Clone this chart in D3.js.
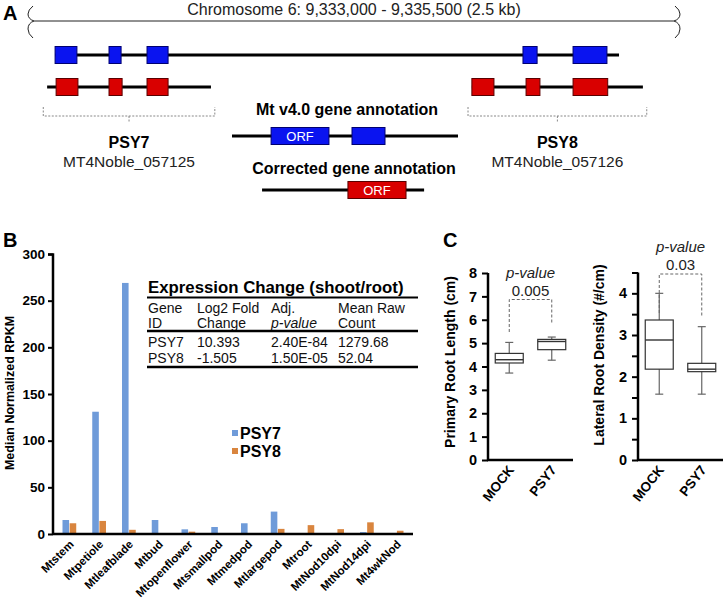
<!DOCTYPE html>
<html><head><meta charset="utf-8">
<script src="https://cdn.jsdelivr.net/npm/d3@7"></script>
<style>body{margin:0;background:#fff} svg{display:block} text{font-family:Arial,"Liberation Sans",sans-serif}</style>
</head><body><svg id="fig" width="724" height="607"></svg>
<script>
// ---------- Panel A data (genomic coordinates, bp) ----------
const chromRange = [9333000, 9335500];
const chromLabel = "Chromosome 6: 9,333,000 - 9,335,500 (2.5 kb)";
const v4Span = [9333086, 9335282];
const v4Exons = [[9333086,9333171],[9333296,9333343],[9333444,9333526],[9334908,9334963],[9335103,9335235]];
const geneNames = ["PSY7", "PSY8"];
const geneIds = ["MT4Noble_057125", "MT4Noble_057126"];
const correctedSpans = [[9333055,9333693],[9334709,9335375]];
const correctedExons = [
  [[9333090,9333175],[9333296,9333347],[9333444,9333526]],
  [[9334709,9334795],[9334920,9334974],[9335103,9335238]]
];
// inset schematic (relative bp)
const insetV4Span = [0, 1000];
const insetV4Exons = [[173,429],[531,677]];
const insetCorrSpan = [133, 850];
const insetCorrExons = [[513,770]];

// ---------- Panel B data ----------
const tissues = ["Mtstem","Mtpetiole","Mtleafblade","Mtbud","Mtopenflower","Mtsmallpod","Mtmedpod","Mtlargepod","Mtroot","MtNod10dpi","MtNod14dpi","Mt4wkNod"];
const psy7Rpkm = [15, 131, 269, 15, 5, 7.5, 11.5, 24, 0.3, 0.2, 2, 0.2];
const psy8Rpkm = [11.5, 14, 4.5, 1, 2.5, 0.8, 1, 5.5, 9.5, 5.2, 12.5, 3.5];
const seriesNames = ["PSY7","PSY8"];
const rpkmTicks = [0,50,100,150,200,250,300];
const tableTitle = "Expression Change (shoot/root)";
const tableHeader1 = ["Gene","Log2 Fold","Adj.","Mean Raw"];
const tableHeader2 = ["ID","Change","p-value","Count"];
const tableRows = [["PSY7","10.393","2.40E-84","1279.68"],["PSY8","-1.505","1.50E-05","52.04"]];

// ---------- Panel C data ----------
const treatments = ["MOCK","PSY7"];
// [whiskerLow, q1, median, q3, whiskerHigh]
const rootLength = [[3.72,4.15,4.29,4.56,5.03],[4.27,4.72,5.07,5.16,5.26]];
const rootDensity = [[1.58,2.18,2.88,3.36,4.0],[1.58,2.12,2.18,2.32,3.2]];
const pLength = "0.005";
const pDensity = "0.03";

const svg = d3.select("#fig");
const blue = "#0a14f0", blueStroke = "#000070";
const red = "#d90000", redStroke = "#5a0000";

// ================= PANEL A =================
svg.append("text").attr("x",3).attr("y",20).attr("font-size",20).attr("font-weight","bold").text("A");
const gx = d3.scaleLinear().domain(chromRange).range([33, 675]);
const x0 = gx(chromRange[0]), x1 = gx(chromRange[1]);
svg.append("line").attr("x1",x0+1).attr("x2",x1-1).attr("y1",21).attr("y2",21).attr("stroke","#222").attr("stroke-width",1);
function brace(x, dir){ // dir -1 left, +1 right
  const d = dir*5;
  return `M${x},6 Q${x+d},10 ${x+d},14 Q${x+d},19 ${x-dir},21 Q${x+d},23 ${x+d},29 Q${x+d},34 ${x},38`;
}
svg.append("path").attr("d",brace(x0,-1)).attr("fill","none").attr("stroke","#222").attr("stroke-width",1);
svg.append("path").attr("d",brace(x1,1)).attr("fill","none").attr("stroke","#222").attr("stroke-width",1);
svg.append("text").attr("x",(x0+x1)/2).attr("y",15).attr("text-anchor","middle").attr("font-size",16).attr("fill","#222").text(chromLabel);

function geneModel(g, scale, span, exons, y, h, fill, stroke){
  g.append("line").attr("x1",scale(span[0])).attr("x2",scale(span[1])).attr("y1",y).attr("y2",y)
    .attr("stroke","#000").attr("stroke-width",3);
  g.selectAll(null).data(exons).enter().append("rect")
    .attr("x",d=>scale(d[0])).attr("width",d=>scale(d[1])-scale(d[0]))
    .attr("y",y-h/2).attr("height",h).attr("fill",fill).attr("stroke",stroke).attr("stroke-width",1);
}
const gA = svg.append("g");
geneModel(gA, gx, v4Span, v4Exons, 55, 17, blue, blueStroke);
correctedSpans.forEach((s,i)=>geneModel(gA, gx, s, correctedExons[i], 87, 17, red, redStroke));

// dashed brackets and labels
correctedSpans.forEach((s,i)=>{
  const a = gx(s[0]-15), b = gx(s[1]+15), m=(a+b)/2;
  gA.append("path").attr("d",`M${a},107 L${a},116 L${b},116 L${b},107 M${m},116 L${m},122`)
    .attr("fill","none").attr("stroke","#888").attr("stroke-width",1).attr("stroke-dasharray","2,1.5");
  gA.append("text").attr("x",m).attr("y",148).attr("text-anchor","middle").attr("font-size",16).attr("font-weight","bold").text(geneNames[i]);
  gA.append("text").attr("x",m).attr("y",167).attr("text-anchor","middle").attr("font-size",15.5).attr("fill","#222").text(geneIds[i]);
});

// inset schematics
const ix = d3.scaleLinear().domain([0,1000]).range([232, 458]);
gA.append("text").attr("x",347).attr("y",115).attr("text-anchor","middle").attr("font-size",16).attr("font-weight","bold").text("Mt v4.0 gene annotation");
geneModel(gA, ix, insetV4Span, insetV4Exons, 136, 17, blue, blueStroke);
gA.append("text").attr("x",(ix(insetV4Exons[0][0])+ix(insetV4Exons[0][1]))/2).attr("y",141).attr("text-anchor","middle").attr("font-size",13).attr("fill","#fff").text("ORF");
gA.append("text").attr("x",354).attr("y",174).attr("text-anchor","middle").attr("font-size",16).attr("font-weight","bold").text("Corrected gene annotation");
geneModel(gA, ix, insetCorrSpan, insetCorrExons, 190, 17, red, redStroke);
gA.append("text").attr("x",(ix(insetCorrExons[0][0])+ix(insetCorrExons[0][1]))/2).attr("y",195).attr("text-anchor","middle").attr("font-size",13).attr("fill","#fff").text("ORF");

// ================= PANEL B =================
svg.append("text").attr("x",3).attr("y",247).attr("font-size",20).attr("font-weight","bold").text("B");
const by = d3.scaleLinear().domain([0,300]).range([534, 254]);
const bx = d3.scaleBand().domain(tissues).range([53, 413]).paddingInner(0.5).paddingOuter(0.3);
const bx1 = d3.scaleBand().domain(seriesNames).range([0, bx.bandwidth()]).padding(0.08);
const colors = {PSY7:"#6f9bd9", PSY8:"#d9853e"};
const gB = svg.append("g");
const barData = [];
tissues.forEach((t,i)=>{ barData.push({t, s:"PSY7", v:psy7Rpkm[i]}); barData.push({t, s:"PSY8", v:psy8Rpkm[i]}); });
gB.selectAll("rect.bar").data(barData).enter().append("rect")
  .attr("x",d=>bx(d.t)+bx1(d.s)).attr("width",bx1.bandwidth())
  .attr("y",d=>by(d.v)).attr("height",d=>by(0)-by(d.v)).attr("fill",d=>colors[d.s]);
const yAxB = gB.append("g").attr("transform","translate(53,0)").call(d3.axisLeft(by).tickValues(rpkmTicks).tickSize(5).tickPadding(3));
yAxB.selectAll("text").attr("font-size",13.5).attr("font-weight","bold").attr("font-family","Arial, Liberation Sans, sans-serif").attr("fill","#000");
yAxB.select(".domain").attr("stroke-width",2.5).attr("d","M-5,254.5H0V534");
yAxB.selectAll(".tick line").attr("stroke-width",2);
const xAxB = gB.append("g").attr("transform","translate(0,534)").call(d3.axisBottom(bx).tickSize(0).tickPadding(0));
xAxB.select(".domain").attr("stroke-width",2.5).attr("d","M53,0H413");
xAxB.selectAll("text").attr("font-size",11.5).attr("font-weight","bold").attr("font-family","Arial, Liberation Sans, sans-serif")
  .attr("fill","#000").attr("text-anchor","end").attr("dy",0)
  .attr("transform","translate(5,11) rotate(-45)");
gB.append("text").attr("transform","translate(14,393) rotate(-90)").attr("text-anchor","middle")
  .attr("font-size",12.5).attr("font-weight","bold").text("Median Normalized RPKM");
// legend
seriesNames.forEach((s,i)=>{
  gB.append("rect").attr("x",232).attr("y",430+i*18).attr("width",6).attr("height",6).attr("fill",colors[s]);
  gB.append("text").attr("x",240).attr("y",439+i*18).attr("font-size",16).attr("font-weight","bold").text(s);
});
// table
const colX = [148, 197, 271, 338];
gB.append("text").attr("x",148).attr("y",293).attr("font-size",16.8).attr("font-weight","bold").text(tableTitle);
gB.append("line").attr("x1",147).attr("x2",418).attr("y1",297.5).attr("y2",297.5).attr("stroke","#000").attr("stroke-width",2);
tableHeader1.forEach((h,i)=>gB.append("text").attr("x",colX[i]).attr("y",313).attr("font-size",14).attr("fill","#111").text(h));
tableHeader2.forEach((h,i)=>gB.append("text").attr("x",colX[i]).attr("y",328).attr("font-size",14).attr("fill","#111").attr("font-style",i===2?"italic":"normal").text(h));
gB.append("line").attr("x1",147).attr("x2",418).attr("y1",331).attr("y2",331).attr("stroke","#000").attr("stroke-width",2.5);
tableRows.forEach((r,j)=>r.forEach((c,i)=>gB.append("text").attr("x",colX[i]).attr("y",347+j*16).attr("font-size",14).attr("fill","#111").text(c)));
gB.append("line").attr("x1",147).attr("x2",418).attr("y1",367).attr("y2",367).attr("stroke","#000").attr("stroke-width",2.5);

// ================= PANEL C =================
svg.append("text").attr("x",443).attr("y",247).attr("font-size",20).attr("font-weight","bold").text("C");
function boxPanel(cfg){
  const g = svg.append("g");
  const y = d3.scaleLinear().domain([0,cfg.max]).range([460, cfg.top]);
  const x = d3.scalePoint().domain(treatments).range([cfg.left, cfg.left+85]).padding(0.5);
  const ax = g.append("g").attr("transform",`translate(${cfg.left},0)`)
    .call(d3.axisLeft(y).tickValues(cfg.ticks).tickSize(6).tickPadding(5).tickFormat(d=>Number.isInteger(d)?d:""));
  ax.select(".domain").attr("stroke-width",2.5).attr("d",`M0,${cfg.top}V460`);
  ax.selectAll(".tick line").attr("stroke-width",2);
  ax.selectAll("text").attr("font-size",14.5).attr("font-weight","bold").attr("font-family","Arial, Liberation Sans, sans-serif").attr("fill","#000");
  const bx = g.append("g").attr("transform","translate(0,460)").call(d3.axisBottom(x).tickSize(0).tickPadding(0));
  bx.select(".domain").attr("stroke-width",2.5).attr("d",`M${cfg.left-1},0H${cfg.left+85}`);
  bx.selectAll("text").attr("font-size",13.5).attr("font-weight","bold").attr("font-family","Arial, Liberation Sans, sans-serif")
    .attr("fill","#000").attr("text-anchor","end").attr("dy",0).attr("transform","translate(5,10) rotate(-52)");
  g.append("text").attr("transform",`translate(${cfg.labelX},${cfg.labelY}) rotate(-90)`).attr("text-anchor","middle")
    .attr("font-size",14).attr("font-weight","bold").text(cfg.label);
  cfg.data.forEach((d,i)=>{
    const cx = x(treatments[i]), w = 28;
    g.append("line").attr("x1",cx).attr("x2",cx).attr("y1",y(d[0])).attr("y2",y(d[4])).attr("stroke","#666").attr("stroke-width",1.2);
    [d[0],d[4]].forEach(v=>g.append("line").attr("x1",cx-4).attr("x2",cx+4).attr("y1",y(v)).attr("y2",y(v)).attr("stroke","#666").attr("stroke-width",1.2));
    g.append("rect").attr("x",cx-w/2).attr("width",w).attr("y",y(d[3])).attr("height",y(d[1])-y(d[3]))
      .attr("fill","#fff").attr("stroke","#333").attr("stroke-width",1.2);
    g.append("line").attr("x1",cx-w/2).attr("x2",cx+w/2).attr("y1",y(d[2])).attr("y2",y(d[2])).attr("stroke","#333").attr("stroke-width",1.4);
  });
  const xa = x(treatments[0]), xb = x(treatments[1]);
  g.append("path").attr("d",`M${xa},${cfg.dashA} V${cfg.dashTop} H${xb} V${cfg.dashB}`)
    .attr("fill","none").attr("stroke","#666").attr("stroke-width",1).attr("stroke-dasharray","3,2");
  g.append("text").attr("x",(xa+xb)/2).attr("y",cfg.pY).attr("text-anchor","middle").attr("font-size",15).attr("font-style","italic").attr("fill","#222").text("p-value");
  g.append("text").attr("x",(xa+xb)/2).attr("y",cfg.pY+18).attr("text-anchor","middle").attr("font-size",15).attr("fill","#222").text(cfg.p);
}
boxPanel({left:488, top:273, max:8, ticks:d3.range(0,9,1), data:rootLength, label:"Primary Root Length (cm)", labelX:455, labelY:362,
  dashTop:299.5, dashA:332, dashB:323, p:pLength, pY:278});
boxPanel({left:638, top:272.5, max:4.5, ticks:d3.range(0,4.51,0.5), data:rootDensity, label:"Lateral Root Density (#/cm)", labelX:604, labelY:355,
  dashTop:274, dashA:313, dashB:317, p:pDensity, pY:252});
</script></body></html>
